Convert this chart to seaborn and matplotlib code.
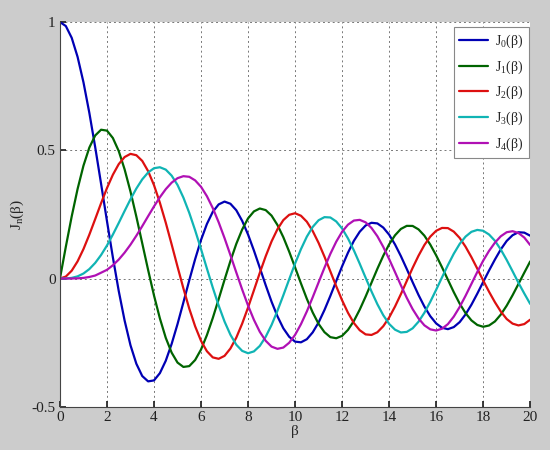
import matplotlib
matplotlib.use("Agg")
import pandas as pd
import matplotlib.pyplot as plt
import seaborn as sns

# beta samples (step 0.25) and Bessel values
beta = [0.0, 0.25, 0.5, 0.75, 1.0, 1.25, 1.5, 1.75,
        2.0, 2.25, 2.5, 2.75, 3.0, 3.25, 3.5, 3.75,
        4.0, 4.25, 4.5, 4.75, 5.0, 5.25, 5.5, 5.75,
        6.0, 6.25, 6.5, 6.75, 7.0, 7.25, 7.5, 7.75,
        8.0, 8.25, 8.5, 8.75, 9.0, 9.25, 9.5, 9.75,
        10.0, 10.25, 10.5, 10.75, 11.0, 11.25, 11.5, 11.75,
        12.0, 12.25, 12.5, 12.75, 13.0, 13.25, 13.5, 13.75,
        14.0, 14.25, 14.5, 14.75, 15.0, 15.25, 15.5, 15.75,
        16.0, 16.25, 16.5, 16.75, 17.0, 17.25, 17.5, 17.75,
        18.0, 18.25, 18.5, 18.75, 19.0, 19.25, 19.5, 19.75,
        20.0]

j0 = [1.0, 0.9844, 0.9385, 0.8642, 0.7652, 0.6459, 0.5118, 0.3690,
      0.2239, 0.0830, -0.0484, -0.1638, -0.2601, -0.3323, -0.3801, -0.4009,
      -0.3971, -0.3688, -0.3205, -0.2549, -0.1776, -0.0931, -0.0068, 0.0757,
      0.1506, 0.2127, 0.2601, 0.2891, 0.3001, 0.2916, 0.2663, 0.2250,
      0.1717, 0.1092, 0.0419, -0.0258, -0.0903, -0.1471, -0.1939, -0.2270,
      -0.2459, -0.2486, -0.2366, -0.2098, -0.1712, -0.1226, -0.0677, -0.0097,
      0.0477, 0.1008, 0.1469, 0.1826, 0.2069, 0.2174, 0.2150, 0.1988,
      0.1711, 0.1329, 0.0875, 0.0374, -0.0142, -0.0640, -0.1092, -0.1466,
      -0.1749, -0.1919, -0.1973, -0.1892, -0.1699, -0.1398, -0.1020, -0.0589,
      -0.0134, 0.0314, 0.0742, 0.1138, 0.1466, 0.1689, 0.1805, 0.1790,
      0.1670]
j1 = [0.0, 0.1240, 0.2423, 0.3492, 0.4401, 0.5106, 0.5579, 0.5802,
      0.5767, 0.5480, 0.4971, 0.4257, 0.3391, 0.2411, 0.1374, 0.0334,
      -0.0660, -0.1552, -0.2311, -0.2888, -0.3276, -0.3446, -0.3414, -0.3176,
      -0.2767, -0.2205, -0.1538, -0.0803, -0.0047, 0.0684, 0.1352, 0.1912,
      0.2346, 0.2618, 0.2731, 0.2669, 0.2453, 0.2089, 0.1613, 0.1048,
      0.0435, -0.0189, -0.0789, -0.1323, -0.1768, -0.2090, -0.2284, -0.2327,
      -0.2234, -0.2001, -0.1655, -0.1211, -0.0703, -0.0162, 0.0380, 0.0887,
      0.1334, 0.1686, 0.1934, 0.2054, 0.2051, 0.1917, 0.1672, 0.1324,
      0.0904, 0.0439, -0.0047, -0.0531, -0.0977, -0.1347, -0.1631, -0.1809,
      -0.1880, -0.1830, -0.1672, -0.1404, -0.1057, -0.0651, -0.0211, 0.0232,
      0.0668]
j2 = [0.0, 0.0078, 0.0306, 0.0671, 0.1149, 0.1711, 0.2321, 0.2940,
      0.3528, 0.4045, 0.4461, 0.4737, 0.4861, 0.4808, 0.4586, 0.4188,
      0.3641, 0.2957, 0.2178, 0.1333, 0.0466, -0.0382, -0.1173, -0.1863,
      -0.2429, -0.2834, -0.3074, -0.3129, -0.3014, -0.2728, -0.2303, -0.1757,
      -0.1130, -0.0457, 0.0223, 0.0868, 0.1448, 0.1923, 0.2278, 0.2485,
      0.2546, 0.2449, 0.2216, 0.1852, 0.1390, 0.0854, 0.0280, -0.0299,
      -0.0849, -0.1334, -0.1733, -0.2015, -0.2177, -0.2199, -0.2094, -0.1859,
      -0.1520, -0.1092, -0.0608, -0.0095, 0.0416, 0.0891, 0.1308, 0.1634,
      0.1862, 0.1973, 0.1967, 0.1829, 0.1584, 0.1242, 0.0834, 0.0386,
      -0.0075, -0.0515, -0.0923, -0.1287, -0.1577, -0.1757, -0.1827, -0.1774,
      -0.1603]
j3 = [0.0, 0.0003, 0.0026, 0.0085, 0.0196, 0.0369, 0.0610, 0.0919,
      0.1289, 0.1713, 0.2167, 0.2635, 0.3091, 0.3510, 0.3867, 0.4136,
      0.4302, 0.4339, 0.4247, 0.4013, 0.3649, 0.3156, 0.2561, 0.1880,
      0.1148, 0.0391, -0.0354, -0.1052, -0.1676, -0.2191, -0.2581, -0.2820,
      -0.2911, -0.2840, -0.2626, -0.2272, -0.1809, -0.1258, -0.0654, -0.0028,
      0.0584, 0.1146, 0.1633, 0.2012, 0.2273, 0.2394, 0.2381, 0.2226,
      0.1951, 0.1565, 0.1100, 0.0578, 0.0033, -0.0502, -0.1000, -0.1428,
      -0.1768, -0.1993, -0.2102, -0.2080, -0.1940, -0.1683, -0.1334, -0.0908,
      -0.0438, 0.0047, 0.0524, 0.0968, 0.1350, 0.1635, 0.1822, 0.1896,
      0.1863, 0.1717, 0.1472, 0.1130, 0.0725, 0.0285, -0.0164, -0.0585,
      -0.0989]
j4 = [0.0, 0.0000, 0.0002, 0.0008, 0.0025, 0.0061, 0.0118, 0.0228,
      0.0340, 0.0518, 0.0740, 0.1010, 0.1321, 0.1670, 0.2043, 0.2431,
      0.2812, 0.3170, 0.3485, 0.3738, 0.3913, 0.3991, 0.3967, 0.3827,
      0.3577, 0.3211, 0.2747, 0.2194, 0.1577, 0.0915, 0.0238, -0.0427,
      -0.1053, -0.1610, -0.2077, -0.2427, -0.2654, -0.2740, -0.2691, -0.2503,
      -0.2196, -0.1779, -0.1283, -0.0729, -0.0150, 0.0423, 0.0962, 0.1436,
      0.1825, 0.2101, 0.2261, 0.2288, 0.2192, 0.1972, 0.1650, 0.1236,
      0.0762, 0.0253, -0.0262, -0.0752, -0.1192, -0.1554, -0.1824, -0.1980,
      -0.2026, -0.1955, -0.1776, -0.1483, -0.1108, -0.0673, -0.0209, 0.0256,
      0.0696, 0.1079, 0.1400, 0.1649, 0.1806, 0.1846, 0.1777, 0.1597,
      0.1306]

labels = ["J$_0$(β)", "J$_1$(β)", "J$_2$(β)", "J$_3$(β)", "J$_4$(β)"]
colors = ["#0000b4", "#006400", "#dd1010", "#10b4b4", "#b010b4"]

df = pd.concat(
    [pd.DataFrame({"beta": beta, "J": vals, "order": lab})
     for vals, lab in zip([j0, j1, j2, j3, j4], labels)],
    ignore_index=True,
)

sns.set_theme(style="white")
plt.rcParams["font.family"] = ["Liberation Serif", "DejaVu Serif"]
plt.rcParams["mathtext.fontset"] = "custom"
plt.rcParams["mathtext.rm"] = "Liberation Serif"
plt.rcParams["mathtext.it"] = "Liberation Serif"

fig = plt.figure(figsize=(5.5, 4.5), dpi=100, facecolor="#cccccc")
ax = fig.add_axes([0.109, 0.096, 0.855, 0.855])
ax.set_facecolor("white")

sns.lineplot(data=df, x="beta", y="J", hue="order", hue_order=labels,
             palette=colors, linewidth=1.6, ax=ax)

ax.set_xlim(0, 20)
ax.set_ylim(-0.5, 1)
ax.set_xticks(range(0, 21, 2))
ax.set_yticks([-0.5, 0, 0.5, 1])
ax.set_yticklabels(["-0.5", "0", "0.5", "1"])
ax.grid(True, linestyle=(0, (2, 3)), color="#777777", linewidth=0.7)
for side in ["top", "right"]:
    ax.spines[side].set_visible(False)
for side in ["left", "bottom"]:
    ax.spines[side].set_color("#444444")
    ax.spines[side].set_linewidth(0.8)
ax.tick_params(direction="in", length=4, labelsize=11, colors="#222222",
               pad=3, left=True, bottom=True)
ax.set_xlabel("β", fontsize=11, labelpad=1)
ax.set_ylabel("J$_\\mathrm{n}$(β)", fontsize=11, labelpad=4)

leg = ax.legend(loc="upper right", bbox_to_anchor=(0.998, 0.987),
                fontsize=10, frameon=True, fancybox=False,
                edgecolor="#888888", framealpha=1, handlelength=2.1,
                handletextpad=0.5, borderaxespad=0, borderpad=0.4,
                labelspacing=0.6, title=None)
leg.get_frame().set_linewidth(0.8)

fig.savefig("out.png", dpi=100, facecolor=fig.get_facecolor())
